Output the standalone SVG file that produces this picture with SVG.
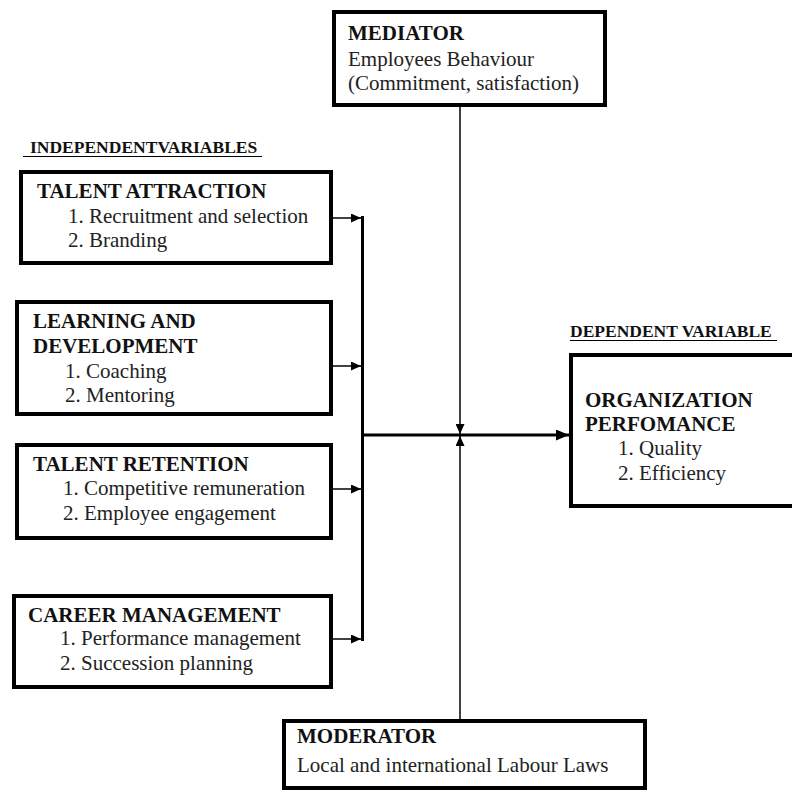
<svg xmlns="http://www.w3.org/2000/svg" width="792" height="792" viewBox="0 0 792 792">
<style>
.box{fill:#fff;stroke:#000;stroke-width:4}
.h{font-family:"Liberation Serif","Times New Roman",serif;font-weight:bold;font-size:21px;fill:#111}
.t{font-family:"Liberation Serif","Times New Roman",serif;font-size:21px;fill:#222}
.lab{font-family:"Liberation Serif","Times New Roman",serif;font-weight:bold;font-size:17.5px;fill:#111}
.thin{stroke:#000;stroke-width:1.5;fill:none}
.thick{stroke:#000;stroke-width:3;fill:none}
</style>
<defs>
<marker id="a" markerUnits="userSpaceOnUse" markerWidth="10" markerHeight="9" refX="10" refY="4.5" orient="auto">
<path d="M0,0 L10,4.5 L0,9 z" fill="#000"/>
</marker>
<marker id="b" markerUnits="userSpaceOnUse" markerWidth="13" markerHeight="11" refX="13" refY="5.5" orient="auto">
<path d="M0,0 L13,5.5 L0,11 z" fill="#000"/>
</marker>
</defs>
<rect width="792" height="792" fill="#fff"/>

<g id="labels">
<text class="lab" x="30" y="153">INDEPENDENTVARIABLES</text>
<line x1="23" y1="156.5" x2="262" y2="156.5" stroke="#000" stroke-width="1.2"/>
<text class="lab" x="570" y="337">DEPENDENT VARIABLE</text>
<line x1="570" y1="340.5" x2="777" y2="340.5" stroke="#000" stroke-width="1.2"/>
</g>

<g id="connectors">
<line class="thin" x1="333" y1="218" x2="361" y2="218" marker-end="url(#a)"/>
<line class="thin" x1="333" y1="366" x2="361" y2="366" marker-end="url(#a)"/>
<line class="thin" x1="333" y1="489" x2="361" y2="489" marker-end="url(#a)"/>
<line class="thin" x1="333" y1="639" x2="361" y2="639" marker-end="url(#a)"/>
<line class="thick" x1="362.5" y1="216" x2="362.5" y2="641"/>
<line class="thick" x1="362" y1="435" x2="569" y2="435" marker-end="url(#b)"/>
<line class="thin" x1="460" y1="107" x2="460" y2="434" marker-end="url(#a)"/>
<line class="thin" x1="460" y1="719" x2="460" y2="436" marker-end="url(#a)"/>
</g>

<g id="mediator">
<rect class="box" x="334" y="12" width="271" height="93"/>
<text class="h" x="348" y="40">MEDIATOR</text>
<text class="t" x="348" y="66">Employees Behaviour</text>
<text class="t" x="348" y="90">(Commitment, satisfaction)</text>
</g>

<g id="talent-attraction">
<rect class="box" x="21" y="172" width="310" height="91"/>
<text class="h" x="37" y="198">TALENT ATTRACTION</text>
<text class="t" x="68" y="223">1. Recruitment and selection</text>
<text class="t" x="68" y="247">2. Branding</text>
</g>

<g id="learning-development">
<rect class="box" x="17" y="302" width="314" height="112"/>
<text class="h" x="33" y="328">LEARNING AND</text>
<text class="h" x="33" y="353">DEVELOPMENT</text>
<text class="t" x="65" y="378">1. Coaching</text>
<text class="t" x="65" y="402">2. Mentoring</text>
</g>

<g id="talent-retention">
<rect class="box" x="17" y="445" width="314" height="93"/>
<text class="h" x="33" y="471">TALENT RETENTION</text>
<text class="t" x="63" y="495">1. Competitive remuneration</text>
<text class="t" x="63" y="520">2. Employee engagement</text>
</g>

<g id="career-management">
<rect class="box" x="14" y="596" width="317" height="91"/>
<text class="h" x="28" y="622">CAREER MANAGEMENT</text>
<text class="t" x="60" y="645">1. Performance management</text>
<text class="t" x="60" y="670">2. Succession planning</text>
</g>

<g id="organization-performance">
<rect class="box" x="571" y="355" width="240" height="151"/>
<text class="h" x="585" y="407">ORGANIZATION</text>
<text class="h" x="585" y="431">PERFOMANCE</text>
<text class="t" x="618" y="455">1. Quality</text>
<text class="t" x="618" y="480">2. Efficiency</text>
</g>

<g id="moderator">
<rect class="box" x="284" y="721" width="361" height="67"/>
<text class="h" x="297" y="743">MODERATOR</text>
<text class="t" x="297" y="772">Local and international Labour Laws</text>
</g>
</svg>
